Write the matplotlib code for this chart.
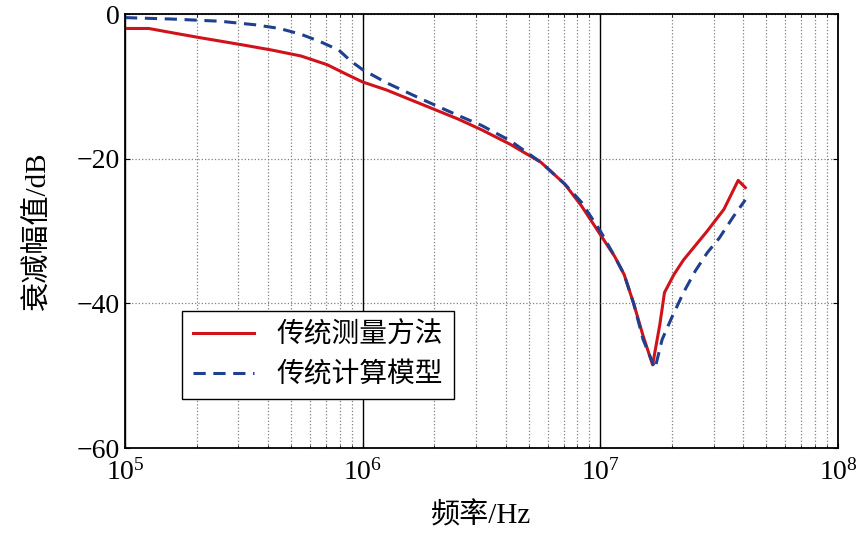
import matplotlib
matplotlib.use("Agg")
import matplotlib.pyplot as plt
import numpy as np

plt.rcParams["font.family"] = ["Liberation Serif", "Noto Sans CJK SC"]
plt.rcParams["mathtext.fontset"] = "stix"

# log10 frequency, attenuation dB
red_logf = [5.0, 5.1, 5.2, 5.32, 5.5, 5.62, 5.74, 5.85, 5.93, 6.0, 6.1, 6.25, 6.4, 6.5, 6.62, 6.75, 6.85, 6.92, 7.0, 7.06, 7.1, 7.14, 7.18, 7.22, 7.25, 7.27, 7.31, 7.35, 7.4, 7.45, 7.52, 7.58, 7.61]
red_db = [-2.0, -2.0, -2.6, -3.3, -4.3, -5.0, -5.8, -7.0, -8.3, -9.4, -10.5, -12.5, -14.5, -16.0, -18.0, -20.5, -23.5, -26.5, -30.5, -33.5, -36.0, -40.0, -44.5, -48.5, -43.0, -38.5, -36.0, -34.0, -32.0, -30.0, -27.0, -23.0, -24.0]
blue_logf = [5.0, 5.2, 5.4, 5.55, 5.65, 5.74, 5.82, 5.9, 5.95, 6.0, 6.1, 6.25, 6.4, 6.5, 6.62, 6.75, 6.85, 6.92, 7.0, 7.06, 7.1, 7.14, 7.18, 7.23, 7.26, 7.3, 7.35, 7.4, 7.45, 7.5, 7.56, 7.61]
blue_db = [-0.5, -0.7, -1.0, -1.5, -2.0, -2.8, -3.8, -5.0, -6.5, -7.7, -9.5, -11.8, -14.0, -15.4, -17.5, -20.5, -23.5, -26.0, -30.0, -33.5, -36.0, -40.0, -45.0, -49.0, -45.0, -42.0, -38.5, -35.5, -33.0, -31.0, -28.0, -25.7]

fig = plt.figure(figsize=(8.61, 5.54), dpi=100)
ax = fig.add_axes([125/861, 1-448/554, 713/861, 434/554])
ax.plot(10**np.array(red_logf), red_db, color="#d0121b", lw=2.2, label="传统测量方法")
ax.plot(10**np.array(blue_logf), blue_db, color="#1f3f8f", lw=2.2, ls=(0, (4, 2.5)), label="传统计算模型")
ax.set_xscale("log")
ax.set_xlim(1e5, 1e8)
ax.set_ylim(-60, 0)
ax.set_yticks([-60, -40, -20, 0])
ax.set_yticklabels(["−60", "−40", "−20", "0"])
for s in ax.spines.values():
    s.set_linewidth(1.3)
ax.grid(which="major", axis="x", color="black", lw=1.0)
ax.grid(which="minor", axis="x", color="gray", ls=":", lw=0.9)
ax.grid(which="major", axis="y", color="gray", ls=":", lw=0.9)
ax.tick_params(which="both", direction="in", labelsize=20, top=True, right=True)
ax.tick_params(axis="x", pad=8)
ax.set_xlabel("频率/Hz", fontsize=21, labelpad=12)
ax.set_ylabel("衰减幅值/dB", fontsize=21, labelpad=18)
leg = ax.legend(loc="lower left", bbox_to_anchor=(0.06, 0.08), fontsize=20, fancybox=False,
                edgecolor="black", framealpha=1, handlelength=2.2)
leg.get_frame().set_linewidth(1.0)
fig.savefig("out.png", dpi=100)
